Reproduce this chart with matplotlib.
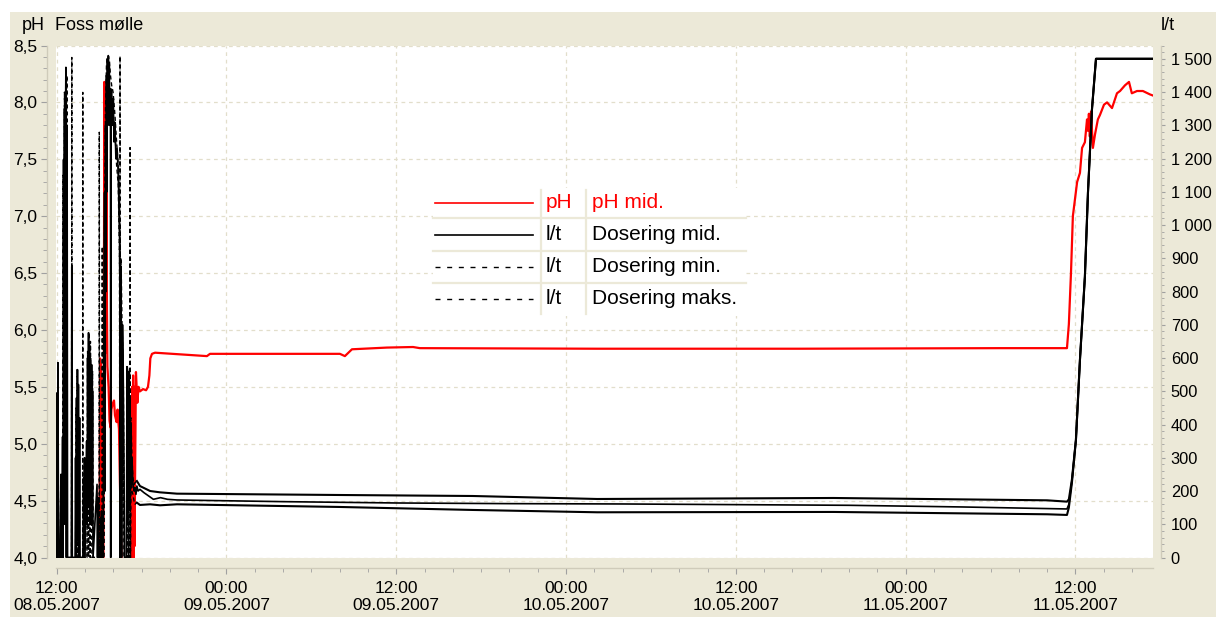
import matplotlib
matplotlib.use('Agg')
import matplotlib.pyplot as plt
import matplotlib.dates as mdates
from matplotlib.ticker import MultipleLocator, FuncFormatter
from matplotlib.patches import Rectangle
from matplotlib.lines import Line2D
from datetime import datetime
import numpy as np

plt.rcParams['font.family'] = ['Liberation Sans', 'DejaVu Sans']

# ---------------- data (minutes after 08.05.2007 12:00, value) ----------------
START = datetime(2007, 5, 8, 12, 0)

ph_mid = [(0, 3.5), (181, 3.5), (184, 5.75), (185, 4.0), (187, 5.7), (188, 4.2), (190, 5.6), (192, 3.9),
          (198, 3.9), (202, 8.18), (205, 6.0), (207, 8.1), (209, 5.8), (211, 7.5), (213, 6.2), (215, 5.68),
          (220, 5.5), (224, 5.2), (229, 5.14), (232, 5.3), (237, 5.35), (243, 5.38), (247, 5.25), (254, 5.19),
          (258, 5.3), (261, 5.2), (264, 5.13), (268, 4.66), (276, 3.9), (317, 3.9), (320, 5.5), (322, 4.05),
          (324, 5.6), (326, 4.0), (329, 5.5), (330, 4.1), (336, 5.63), (342, 5.36), (347, 5.5), (353, 5.46),
          (366, 5.48), (379, 5.47), (387, 5.5), (393, 5.6), (397, 5.75), (404, 5.79), (417, 5.80),
          (637, 5.77), (650, 5.79), (1201, 5.79), (1222, 5.77), (1252, 5.83), (1400, 5.845), (1511, 5.85),
          (1540, 5.84), (2291, 5.835), (3150, 5.835), (4000, 5.84), (4282, 5.84),
          (4284, 5.84), (4292, 6.05), (4297, 6.3), (4301, 6.5), (4309, 7.0), (4318, 7.15), (4327, 7.3),
          (4339, 7.38), (4348, 7.6), (4360, 7.65), (4369, 7.85), (4373, 7.75), (4377, 7.9), (4381, 7.7),
          (4386, 7.92), (4394, 7.6), (4403, 7.72), (4415, 7.85), (4424, 7.89), (4441, 7.98), (4454, 8.0),
          (4475, 7.95), (4496, 8.08), (4509, 8.1), (4530, 8.15), (4547, 8.18), (4559, 8.08), (4581, 8.1),
          (4606, 8.1), (4636, 8.07), (4649, 8.06)]

dos_mid = [(0, 0), (1, 495), (3, 0), (5, 586), (8, 0), (14, 0), (18, 250), (21, 0), (25, 363), (27, 0),
           (29, 1197), (31, 200), (33, 1350), (35, 100), (37, 1300), (39, 1474), (41, 0), (44, 1300), (46, 0),
           (62, 0), (64, 875), (66, 0), (78, 0), (80, 300), (82, 0), (84, 480), (86, 50), (88, 565), (90, 100),
           (92, 520), (95, 0), (97, 420), (99, 0), (111, 0), (114, 240), (116, 0), (118, 300), (120, 0),
           (127, 350), (129, 100), (131, 600), (133, 150), (135, 676), (137, 200), (139, 640), (141, 100),
           (143, 600), (145, 200), (148, 580), (150, 100), (152, 500), (154, 0), (171, 220), (173, 0),
           (175, 180), (177, 0), (184, 0), (186, 120), (188, 0), (190, 140), (192, 0), (197, 0), (199, 500),
           (203, 1098), (205, 200), (207, 1300), (209, 800), (211, 1450), (213, 1100), (215, 1500), (217, 1300),
           (219, 1508), (221, 1350), (223, 1480), (225, 1300), (228, 1410), (229, 0), (230, 1400), (233, 1408),
           (237, 1300), (240, 1380), (243, 1250), (247, 1309), (251, 1200), (256, 1230), (261, 1158),
           (264, 1050), (268, 947), (270, 0), (273, 875), (275, 0), (279, 700), (282, 556), (285, 300),
           (288, 0), (296, 0), (298, 574), (300, 100), (302, 560), (304, 200), (307, 520), (309, 150),
           (311, 480), (313, 250), (315, 400), (317, 220), (319, 300), (323, 224), (328, 200), (332, 210),
           (336, 190), (340, 215), (345, 200), (353, 205), (370, 195), (390, 185), (410, 175), (440, 180),
           (470, 175), (510, 173), (960, 168), (1440, 164), (1920, 162), (2400, 161), (2880, 159),
           (3360, 157), (3840, 152), (4284, 146), (4292, 160), (4305, 230), (4322, 354), (4339, 594),
           (4360, 845), (4373, 1097), (4390, 1348), (4407, 1500), (4650, 1500)]

dos_min = [(0, 0), (1, 200), (3, 0), (27, 0), (29, 1000), (31, 100), (36, 1300), (39, 200), (43, 1450),
           (44.5, 0), (82, 0), (84, 300), (86, 0), (89, 500), (92, 0), (116, 0), (118, 300), (119, 0),
           (128, 0), (133, 500), (135, 0), (139, 600), (142, 0), (145, 520), (149, 0), (201, 0), (204, 900),
           (207, 1100), (211, 1400), (215, 1470), (220, 1480), (224, 1400), (228, 1380), (233, 1380),
           (239, 1330), (247, 1280), (254, 1180), (261, 1120), (266, 900), (270, 700), (275, 0), (281, 500),
           (285, 0), (299, 0), (302, 520), (305, 0), (309, 450), (313, 0), (316, 350), (319, 200), (323, 190),
           (328, 170), (332, 160), (340, 165), (353, 158), (396, 160), (438, 157), (510, 160), (1200, 152),
           (1764, 143), (2292, 136), (3294, 137), (4200, 130), (4284, 128), (4292, 150), (4305, 225),
           (4322, 354), (4339, 594), (4360, 845), (4373, 1097), (4390, 1348), (4407, 1500), (4650, 1500)]

dos_max = [(0, 0), (0.5, 495), (2, 0), (5, 586), (8, 0), (25, 0), (27, 1150), (29, 300), (33, 1400),
           (35, 500), (39, 1474), (41, 100), (44, 0), (63, 0), (64, 1504), (65, 0), (80, 0), (82, 450),
           (84, 100), (87, 565), (90, 0), (110, 0), (110.5, 1399), (111, 0), (129, 0), (131, 620), (133, 300),
           (136, 676), (139, 250), (143, 650), (148, 300), (152, 560), (155, 0), (180, 0), (180.6, 1279),
           (181.5, 0), (193, 0), (193.3, 935), (194, 0), (198, 0), (203, 1000), (207, 1350), (211, 1480),
           (215, 1508), (219, 1510), (224, 1490), (228, 1450), (233, 1420), (239, 1400), (247, 1330),
           (254, 1250), (261, 1180), (266, 1000), (268, 0), (268.5, 1508), (269.5, 0), (273, 900), (277, 700),
           (282, 580), (287, 0), (298, 0), (300, 574), (304, 300), (309, 560), (310.5, 0), (311, 1233),
           (312, 0), (315, 420), (319, 300), (323, 240), (328, 220), (332, 225), (340, 230), (353, 215),
           (396, 200), (438, 196), (510, 192), (1200, 188), (1764, 185), (2292, 176), (3294, 179),
           (4200, 172), (4284, 168), (4292, 175), (4305, 235), (4322, 354), (4339, 594), (4360, 845),
           (4373, 1097), (4390, 1348), (4407, 1500), (4650, 1500)]

legend_rows = [("pH", "pH mid."), ("l/t", "Dosering mid."), ("l/t", "Dosering min."), ("l/t", "Dosering maks.")]

# ---------------- helpers ----------------
W, H = 1216, 617
BEIGE = '#ECE9D8'
t0 = mdates.date2num(START)


def to_xy(points):
    t = np.array([p[0] for p in points], dtype=float) / 1440.0 + t0
    v = np.array([p[1] for p in points], dtype=float)
    return t, v


fig = plt.figure(figsize=(W / 100, H / 100), dpi=100)
fig.patch.set_facecolor('white')
fig.patches.append(Rectangle((10 / W, 0), 1 - 10 / W, (H - 12) / H, transform=fig.transFigure,
                             facecolor=BEIGE, edgecolor='none', zorder=-10))

L, R, T, B = 56, 1153, 45.5, 557.5
ax = fig.add_axes([L / W, (H - B) / H, (R - L) / W, (B - T) / H])
ax.set_facecolor('white')
ax2 = ax.twinx()

ax.set_xlim(t0 - 0.05 / 24, t0 + 77.48 / 24)
ax.set_ylim(4.0, 8.5)
ax2.set_ylim(0, 1540)

# lines
tp, vp = to_xy(ph_mid)
ax.plot(tp, vp, color='#FF0000', lw=1.6, zorder=3)

for series in (dos_min, dos_max):
    t, v = to_xy(series)
    split = int(np.searchsorted(t, t0 + 340 / 1440.0))
    ax2.plot(t[:split + 1], v[:split + 1], color='black', lw=1.0, linestyle=(0, (3, 2)), zorder=3)
    ax2.plot(t[split:], v[split:], color='black', lw=1.5, zorder=3)
t, v = to_xy(dos_mid)
ax2.plot(t, v, color='black', lw=1.2, zorder=4)

# grid
ax.grid(True, which='major', color='#E2DECB', linestyle=(0, (3, 3)), linewidth=0.9)
ax2.grid(False)

# spines
SP = '#CFCBBA'
for a in (ax, ax2):
    a.spines['top'].set_visible(False)
ax.spines['right'].set_visible(False)
ax2.spines['left'].set_visible(False)
ax2.spines['bottom'].set_visible(False)
ax.spines['left'].set_position(('outward', 6.5))
ax.spines['bottom'].set_position(('outward', 7.6))
ax2.spines['right'].set_position(('outward', 5.8))
for s in (ax.spines['left'], ax.spines['bottom'], ax2.spines['right']):
    s.set_color(SP)
    s.set_linewidth(1.0)

# ticks
ax.xaxis.set_major_locator(mdates.HourLocator(byhour=[0, 12]))
ax.xaxis.set_minor_locator(mdates.HourLocator(interval=2))
ax.xaxis.set_major_formatter(mdates.DateFormatter('%H:%M\n%d.%m.%Y'))
ax.yaxis.set_major_locator(MultipleLocator(0.5))
ax.yaxis.set_minor_locator(MultipleLocator(0.1))
ax.yaxis.set_major_formatter(FuncFormatter(lambda v, _: f"{v:.1f}".replace('.', ',')))
ax2.yaxis.set_major_locator(MultipleLocator(100))
ax2.yaxis.set_minor_locator(MultipleLocator(20))
ax2.yaxis.set_major_formatter(FuncFormatter(lambda v, _: f"{int(round(v)):,}".replace(',', ' ')))

TC = '#A0A0A0'
ax.tick_params(axis='x', which='major', length=4, color=TC, labelsize=12.5, pad=5, labelcolor='black')
ax.tick_params(axis='x', which='minor', length=3, color=TC)
ax.tick_params(axis='y', which='major', length=4, color=TC, labelsize=12.5, pad=3, labelcolor='black')
ax.tick_params(axis='y', which='minor', length=3, color=TC)
ax2.tick_params(axis='y', which='major', length=3, color=TC, labelsize=11.8, pad=4, labelcolor='black')
ax2.tick_params(axis='y', which='minor', length=2.5, color=TC)

# header texts
fig.text(22 / W, 1 - 26 / H, 'pH', ha='left', va='center', fontsize=13)
fig.text(55 / W, 1 - 26 / H, 'Foss mølle', ha='left', va='center', fontsize=13)
fig.text(1161 / W, 1 - 26 / H, 'l/t', ha='left', va='center', fontsize=13)


# ---------------- table-like legend ----------------
def fx(px):
    return (px - L) / (R - L)


def fy(py):
    return (B - py) / (B - T)


tr = ax2.transAxes
ax2.add_patch(Rectangle((fx(433), fy(316)), fx(746) - fx(433), fy(188) - fy(316), transform=tr,
                        facecolor='white', edgecolor='none', zorder=8))
for yy in (218, 251, 283):
    ax2.add_line(Line2D([fx(433), fx(746)], [fy(yy), fy(yy)], transform=tr, color=BEIGE, lw=1.6, zorder=9))
for xx in (541, 586):
    ax2.add_line(Line2D([fx(xx), fx(xx)], [fy(190), fy(314)], transform=tr, color=BEIGE, lw=1.6, zorder=9))

row_y = [203, 235, 267, 299]
styles = [dict(color='#FF0000', lw=1.2), dict(color='black', lw=1.2),
          dict(color='black', lw=1.0, linestyle=(0, (3.6, 4.8))),
          dict(color='black', lw=1.0, linestyle=(0, (3.6, 4.8)))]
for (unit, name), yy, st in zip(legend_rows, row_y, styles):
    ax2.add_line(Line2D([fx(435), fx(533)], [fy(yy), fy(yy)], transform=tr, zorder=10, **st))
    col = '#FF0000' if unit == 'pH' else 'black'
    ax2.text(fx(546), fy(yy), unit, transform=tr, ha='left', va='center', fontsize=15, color=col, zorder=10)
    ax2.text(fx(592), fy(yy), name, transform=tr, ha='left', va='center', fontsize=15, color=col, zorder=10)

fig.savefig('out.png', dpi=100, facecolor=fig.get_facecolor())
